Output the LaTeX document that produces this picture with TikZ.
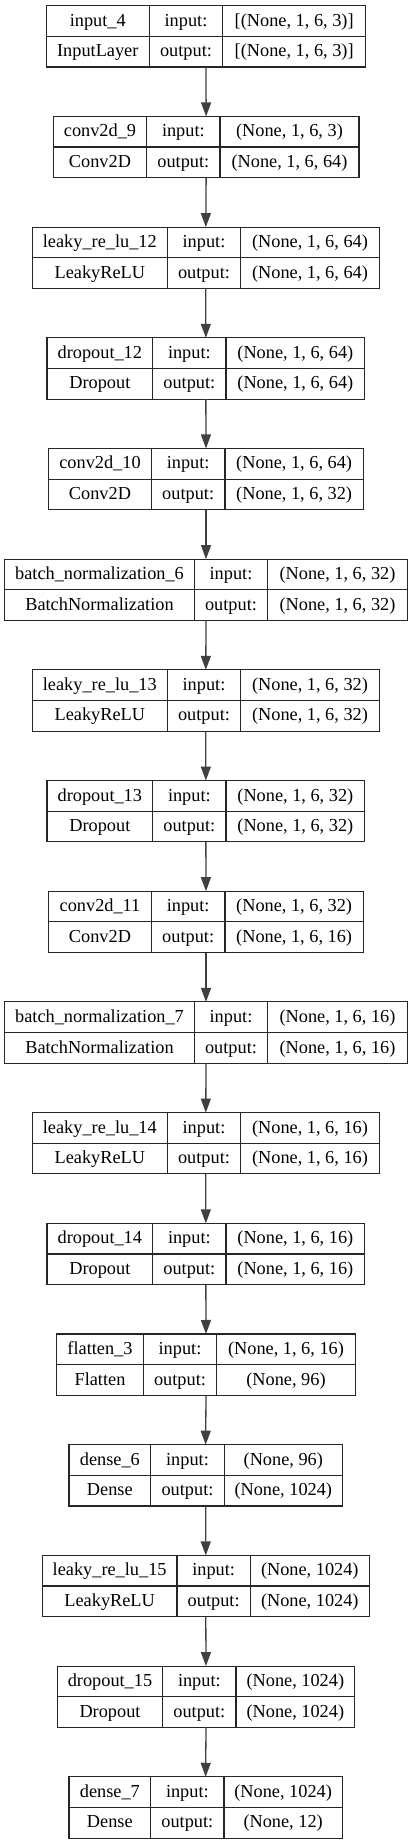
\documentclass[tikz,border=0pt]{standalone}
\usepackage{fontspec}
\setmainfont{Liberation Serif}
\usepackage{tikz}
\usetikzlibrary{arrows.meta}

\tikzset{
  layerbox/.style = {draw=black!85, line width=1.1pt, inner sep=0pt, outer sep=0pt},
  cellline/.style = {draw=black!85, line width=1.1pt},
  celltext/.style = {anchor=base, inner sep=0pt, font=\fontsize{18.3}{20}\selectfont},
  conn/.style = {draw=black!75, line width=1.3pt, -{Triangle[length=14pt,width=10pt]}}
}

% #1 index, #2 left, #3 first divider, #4 second divider, #5 right,
% #6 layer name, #7 layer class, #8 input shape, #9 output shape
\newcommand{\kerasbox}[9]{
  \pgfmathsetmacro\ytop{5.7+(#1-1)*110.69}
  \pgfmathsetmacro\ymid{\ytop+30.65}
  \pgfmathsetmacro\ybot{\ytop+61.3}
  \pgfmathsetmacro\bw{#5-#2}
  \node[layerbox, minimum width=\bw pt, minimum height=61.3pt] (L#1) at ({(#2+#5)/2},{\ytop+30.65}) {};
  \draw[cellline] (#2,\ymid) -- (#5,\ymid);
  \draw[cellline] (#3,\ytop) -- (#3,\ybot);
  \draw[cellline] (#4,\ytop) -- (#4,\ybot);
  \node[celltext] (L#1name) at ({(#2+#3)/2},{\ytop+20.5}) {#6};
  \node[celltext] (L#1class) at ({(#2+#3)/2},{\ymid+20.5}) {#7};
  \node[celltext] (L#1inlbl) at ({(#3+#4)/2},{\ytop+20.5}) {input:};
  \node[celltext] (L#1outlbl) at ({(#3+#4)/2},{\ymid+20.5}) {output:};
  \node[celltext] (L#1in) at ({(#4+#5)/2},{\ytop+20.5}) {#8};
  \node[celltext] (L#1out) at ({(#4+#5)/2},{\ymid+20.5}) {#9};
}

\begin{document}
\begin{tikzpicture}[x=1pt, y=-1pt]
  \useasboundingbox (0,0) rectangle (412,1844);

  \kerasbox{1}{46.3}{149.3}{222.7}{365.7}{input\_4}{InputLayer}{[(None, 1, 6, 3)]}{[(None, 1, 6, 3)]}
  \kerasbox{2}{53.3}{146.7}{220}{359}{conv2d\_9}{Conv2D}{(None, 1, 6, 3)}{(None, 1, 6, 64)}
  \kerasbox{3}{32.3}{167.3}{240.7}{379.3}{leaky\_re\_lu\_12}{LeakyReLU}{(None, 1, 6, 64)}{(None, 1, 6, 64)}
  \kerasbox{4}{47}{152.7}{226}{364.7}{dropout\_12}{Dropout}{(None, 1, 6, 64)}{(None, 1, 6, 64)}
  \kerasbox{5}{48.7}{151.3}{225}{363.3}{conv2d\_10}{Conv2D}{(None, 1, 6, 64)}{(None, 1, 6, 32)}
  \kerasbox{6}{4.7}{194.3}{267.7}{407.3}{batch\_normalization\_6}{BatchNormalization}{(None, 1, 6, 32)}{(None, 1, 6, 32)}
  \kerasbox{7}{32.3}{167.3}{240.7}{379.3}{leaky\_re\_lu\_13}{LeakyReLU}{(None, 1, 6, 32)}{(None, 1, 6, 32)}
  \kerasbox{8}{47}{152.7}{226}{364.7}{dropout\_13}{Dropout}{(None, 1, 6, 32)}{(None, 1, 6, 32)}
  \kerasbox{9}{48.7}{151.3}{225}{363.3}{conv2d\_11}{Conv2D}{(None, 1, 6, 32)}{(None, 1, 6, 16)}
  \kerasbox{10}{4.7}{194.3}{267.7}{407.3}{batch\_normalization\_7}{BatchNormalization}{(None, 1, 6, 16)}{(None, 1, 6, 16)}
  \kerasbox{11}{32.3}{167.3}{240.7}{379.3}{leaky\_re\_lu\_14}{LeakyReLU}{(None, 1, 6, 16)}{(None, 1, 6, 16)}
  \kerasbox{12}{47}{152.7}{226}{364.7}{dropout\_14}{Dropout}{(None, 1, 6, 16)}{(None, 1, 6, 16)}
  \kerasbox{13}{56.7}{143.3}{216.7}{355.3}{flatten\_3}{Flatten}{(None, 1, 6, 16)}{(None, 96)}
  \kerasbox{14}{69}{150.7}{224.3}{342.3}{dense\_6}{Dense}{(None, 96)}{(None, 1024)}
  \kerasbox{15}{42.3}{177}{250.3}{369.3}{leaky\_re\_lu\_15}{LeakyReLU}{(None, 1024)}{(None, 1024)}
  \kerasbox{16}{57.3}{162.7}{236}{354.7}{dropout\_15}{Dropout}{(None, 1024)}{(None, 1024)}
  \kerasbox{17}{69}{150.7}{224}{342.3}{dense\_7}{Dense}{(None, 1024)}{(None, 12)}

  % arrows between the layers
  \foreach \i [evaluate=\i as \j using int(\i+1)] in {1,...,16}
    \draw[conn] (L\i.south) -- (L\j.north);
\end{tikzpicture}
\end{document}
